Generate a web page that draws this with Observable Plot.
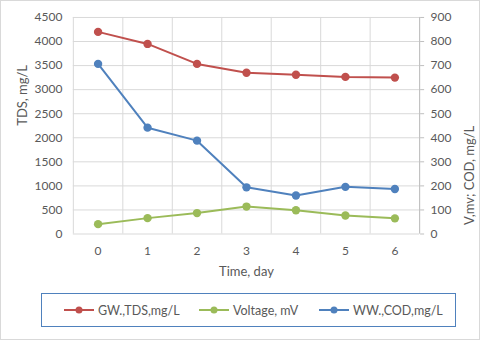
<!DOCTYPE html>
<html>
<head>
<meta charset="utf-8">
<script src="https://cdn.jsdelivr.net/npm/d3@7"></script>
<script src="https://cdn.jsdelivr.net/npm/@observablehq/plot@0.6"></script>
<style>
  html, body { margin: 0; padding: 0; background: #fff; }
  #wrap { position: relative; width: 478px; height: 338px; border: 1px solid #d9d9d9; overflow: hidden; font-family: Lato, "Open Sans", sans-serif; }
  #chart { position: absolute; left: -1px; top: -1px; }
  #legend { position: absolute; left: 40px; top: 292px; width: 415px; height: 34px; border: 1px solid #4F81BD; box-sizing: border-box; font-size: 12.5px; color: #595959; }
  .item { position: absolute; top: 0; height: 32px; display: flex; align-items: center; }
  .item svg { margin-right: 4px; }
</style>
</head>
<body>
<div id="wrap">
  <div id="chart"></div>
  <div id="legend"></div>
</div>
<script>
const days = [0, 1, 2, 3, 4, 5, 6];
const gwTds = [4200, 3950, 3535, 3350, 3310, 3265, 3250];      // left axis, mg/L
const voltage = [41, 66, 87, 114, 99, 77, 65];                  // right axis, mV
const wwCod = [707, 442, 388, 194, 160, 196, 187];              // right axis, mg/L
const seriesNames = ["GW.,TDS,mg/L", "Voltage, mV", "WW.,COD,mg/L"];
const seriesColors = ["#C0504D", "#9BBB59", "#4F81BD"];
const leftTicks = [0, 500, 1000, 1500, 2000, 2500, 3000, 3500, 4000, 4500];
const ratio = 5; // right axis = left axis / 5

const rows = [];
days.forEach((d, i) => {
  rows.push({day: d, value: gwTds[i], series: seriesNames[0]});
  rows.push({day: d, value: voltage[i] * ratio, series: seriesNames[1]});
  rows.push({day: d, value: wwCod[i] * ratio, series: seriesNames[2]});
});

const gridX = d3.range(-0.5, 6.51, 1);
const textColor = "#595959";

const chart = Plot.plot({
  width: 480,
  height: 290,
  marginTop: 17,
  marginBottom: 56,
  marginLeft: 73,
  marginRight: 60,
  style: {fontFamily: "Lato, 'Open Sans', sans-serif", fontSize: "12px", color: textColor, background: "transparent"},
  x: {domain: [-0.5, 6.5]},
  y: {domain: [0, 4500]},
  color: {domain: seriesNames, range: seriesColors},
  marks: [
    Plot.ruleY(leftTicks, {stroke: "#d9d9d9", strokeWidth: 1}),
    Plot.ruleX(gridX, {stroke: "#d9d9d9", strokeWidth: 1}),
    Plot.ruleX([6.5], {stroke: "#bfbfbf", strokeWidth: 1}),
    Plot.axisY({ticks: leftTicks, tickSize: 0, tickPadding: 11, tickFormat: d => String(d), label: null, fontSize: 12}),
    Plot.axisY({anchor: "right", ticks: leftTicks, tickSize: 4, tickPadding: 7, tickFormat: d => String(d / ratio), label: null, stroke: "#bfbfbf", fontSize: 12}),
    Plot.axisX({ticks: days, tickSize: 0, tickPadding: 13, label: null, tickFormat: d => String(d), fontSize: 12}),
    Plot.text(["TDS, mg/L"], {frameAnchor: "left", dx: -51, rotate: -90, fontSize: 13, fill: textColor}),
    Plot.text(["V,mv; COD, mg/L"], {frameAnchor: "right", dx: 50, rotate: -90, fontSize: 13, fill: textColor}),
    Plot.text(["Time, day"], {frameAnchor: "bottom", dy: 42, fontSize: 13, fill: textColor}),
    Plot.line(rows, {x: "day", y: "value", stroke: "series", z: "series", strokeWidth: 2}),
    Plot.dot(rows, {x: "day", y: "value", fill: "series", r: 4.2})
  ]
});
document.getElementById("chart").appendChild(chart);

const legend = document.getElementById("legend");
const lefts = [22, 157, 277];
seriesNames.forEach((name, i) => {
  const it = document.createElement("div");
  it.className = "item";
  it.style.left = lefts[i] + "px";
  it.innerHTML = `<svg width="30" height="10"><line x1="0" y1="5" x2="30" y2="5" stroke="${seriesColors[i]}" stroke-width="2"/><circle cx="15" cy="5" r="3.5" fill="${seriesColors[i]}"/></svg><span>${name}</span>`;
  legend.appendChild(it);
});
</script>
</body>
</html>
